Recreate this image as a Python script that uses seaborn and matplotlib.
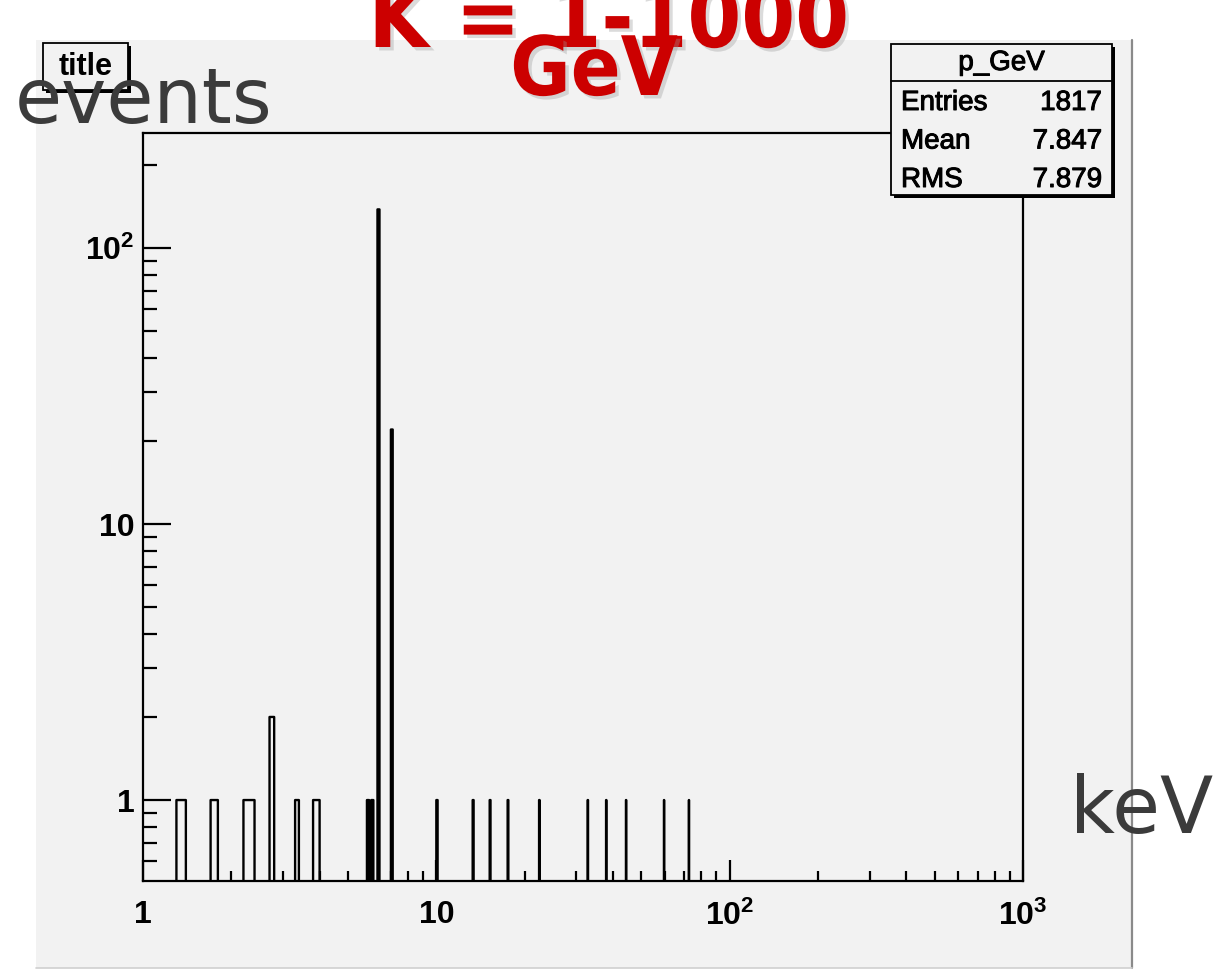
import numpy as np
import pandas as pd
import matplotlib
matplotlib.use("Agg")
import matplotlib.pyplot as plt
from matplotlib.patches import Rectangle
from matplotlib.lines import Line2D
from matplotlib.transforms import Affine2D
from matplotlib.ticker import FixedLocator, FixedFormatter, NullFormatter
from matplotlib import patheffects as pe
import seaborn as sns

# Histogram content: 0.1-wide bins over 0..1000, only the non-empty bins are listed
bin_low = [1.3, 1.7, 2.2, 2.3, 2.7, 3.3, 3.8, 3.9, 5.8, 6.0, 6.3, 7.0,
           10.0, 13.3, 15.2, 17.5, 22.4, 32.8, 37.9, 44.3, 59.7, 72.6]
bin_count = [1, 1, 1, 1, 2, 1, 1, 1, 1, 1, 138, 22,
             1, 1, 1, 1, 1, 1, 1, 1, 1, 1]
bin_width = 0.1
x_range = (0.0, 1000.0)

x_ticks = [1, 10, 100, 1000]
x_ticklabels = ['1', '10', r'$\mathbf{10^{2}}$', r'$\mathbf{10^{3}}$']
y_ticks = [1, 10, 100]
y_ticklabels = ['1', '10', r'$\mathbf{10^{2}}$']

hist_name = 'p_GeV'
stats_names = ['Entries', 'Mean', 'RMS']
stats_values = ['1817', '7.847', '7.879']

W, H = 1216, 972
sns.set_style("ticks")
plt.rcParams['mathtext.fontset'] = 'custom'
plt.rcParams['mathtext.rm'] = 'Liberation Sans'
plt.rcParams['mathtext.bf'] = 'Liberation Sans:bold'
plt.rcParams['font.family'] = ['DejaVu Sans']
plt.rcParams['text.color'] = 'black'
plt.rcParams['xtick.color'] = 'black'
plt.rcParams['ytick.color'] = 'black'
plt.rcParams['xtick.labelcolor'] = 'black'
plt.rcParams['ytick.labelcolor'] = 'black'

fig = plt.figure(figsize=(W / 100, H / 100), dpi=100)
fig.patch.set_facecolor('white')

# pixel coordinates, origin at the top-left corner
pix = Affine2D().scale(1 / W, -1 / H).translate(0, 1) + fig.transFigure

# canvas background
fig.patches.append(Rectangle((36, 40), 1096, 928, transform=pix,
                             facecolor='#f2f2f2', edgecolor='none', zorder=-5))
fig.lines.append(Line2D([1132, 1132], [40, 968], transform=pix,
                        color='#8a8a8a', lw=1.6, zorder=-4))
fig.lines.append(Line2D([36, 1132], [968, 968], transform=pix,
                        color='#d0d0d0', lw=1.2, zorder=-4))

ax = fig.add_axes([143 / W, 1 - 881 / H, (1023 - 143) / W, (881 - 133) / H])
ax.set_facecolor('none')

n_bins = int(round((x_range[1] - x_range[0]) / bin_width))
edges = np.linspace(x_range[0], x_range[1], n_bins + 1).tolist()
df = pd.DataFrame({'p': np.array(bin_low) + bin_width / 2,
                   'n': np.array(bin_count, dtype=float)})
sns.histplot(data=df, x='p', weights='n', bins=edges, element='step',
             fill=False, color='black', linewidth=1.7, ax=ax)

ax.set_xscale('log')
ax.set_yscale('log')
ax.set_xlim(1, 1000)
ax.set_ylim(0.509, 261)
ax.set_xlabel('')
ax.set_ylabel('')

for s in ax.spines.values():
    s.set_visible(True)
    s.set_color('black')
    s.set_linewidth(1.6)

ax.xaxis.set_major_locator(FixedLocator(x_ticks))
ax.xaxis.set_major_formatter(FixedFormatter(x_ticklabels))
ax.xaxis.set_minor_locator(FixedLocator([m * d for d in (1, 10, 100) for m in range(2, 10)]))
ax.xaxis.set_minor_formatter(NullFormatter())
ax.yaxis.set_major_locator(FixedLocator(y_ticks))
ax.yaxis.set_major_formatter(FixedFormatter(y_ticklabels))
ax.yaxis.set_minor_locator(FixedLocator([0.6, 0.7, 0.8, 0.9] +
                                        [m * d for d in (1, 10) for m in range(2, 10)] + [200]))
ax.yaxis.set_minor_formatter(NullFormatter())

ax.tick_params(axis='both', which='both', direction='in', top=False, right=False,
               width=1.6, color='black', labelcolor='black')
ax.tick_params(axis='x', which='major', length=15, pad=14)
ax.tick_params(axis='x', which='minor', length=7.5)
ax.tick_params(axis='y', which='major', length=20, pad=6)
ax.tick_params(axis='y', which='minor', length=10)
bold_edge = [pe.withStroke(linewidth=0.7, foreground='black')]
for lab in ax.get_xticklabels() + ax.get_yticklabels():
    lab.set_fontfamily('Liberation Sans')
    lab.set_fontweight('bold')
    lab.set_fontsize(23)
    lab.set_color('black')

# title box
fig.patches.append(Rectangle((46, 46), 85, 47, transform=pix,
                             facecolor='black', edgecolor='none', zorder=2))
fig.patches.append(Rectangle((43, 43), 85, 47, transform=pix,
                             facecolor='#f2f2f2', edgecolor='black', lw=1.3, zorder=2.1))
fig.text(85.5, 67, 'title', transform=pix, ha='center', va='center', color='black',
         fontfamily='Liberation Sans', fontweight='bold', fontsize=22, zorder=2.2)

# statistics box
bx0, by0, bx1, by1 = 891, 44, 1112, 195
fig.patches.append(Rectangle((bx0 + 3, by0 + 3), bx1 - bx0, by1 - by0, transform=pix,
                             facecolor='black', edgecolor='none', zorder=2))
fig.patches.append(Rectangle((bx0, by0), bx1 - bx0, by1 - by0, transform=pix,
                             facecolor='#f2f2f2', edgecolor='black', lw=1.3, zorder=2.1))
fig.lines.append(Line2D([bx0, bx1], [81, 81], transform=pix, color='black', lw=1.3, zorder=2.2))
fig.text((bx0 + bx1) / 2, 63, hist_name, transform=pix, ha='center', va='center',
         color='black', fontfamily='Liberation Sans', fontsize=20,
         path_effects=bold_edge, zorder=2.3)
for i, (nm, val) in enumerate(zip(stats_names, stats_values)):
    yy = 103 + i * 38.5
    fig.text(901, yy, nm, transform=pix, ha='left', va='center', color='black',
             fontfamily='Liberation Sans', fontsize=20, path_effects=bold_edge, zorder=2.3)
    fig.text(1102, yy, val, transform=pix, ha='right', va='center', color='black',
             fontfamily='Liberation Sans', fontsize=20, path_effects=bold_edge, zorder=2.3)

# axis annotations
fig.text(15, 123, 'events', transform=pix, ha='left', va='baseline',
         fontfamily='DejaVu Sans', fontsize=55, color='#3b3b3b', zorder=3)
fig.text(1070, 833, 'keV', transform=pix, ha='left', va='baseline',
         fontfamily='DejaVu Sans', fontsize=56, color='#3b3b3b', zorder=3)

# heading
shadow = [pe.SimplePatchShadow(offset=(2.5, -2.5), shadow_rgbFace='#9a9a9a', alpha=0.35), pe.Normal()]
fig.text(609, 47, 'K = 1-1000', transform=pix, ha='center', va='baseline',
         fontfamily='DejaVu Sans', fontstretch='condensed', fontweight='bold',
         fontsize=62, color='#cc0000', path_effects=shadow, zorder=3)
fig.text(594, 95, 'GeV', transform=pix, ha='center', va='baseline',
         fontfamily='DejaVu Sans', fontstretch='condensed', fontweight='bold',
         fontsize=59, color='#cc0000', path_effects=shadow, zorder=3)

fig.savefig('out.png', dpi=100)
